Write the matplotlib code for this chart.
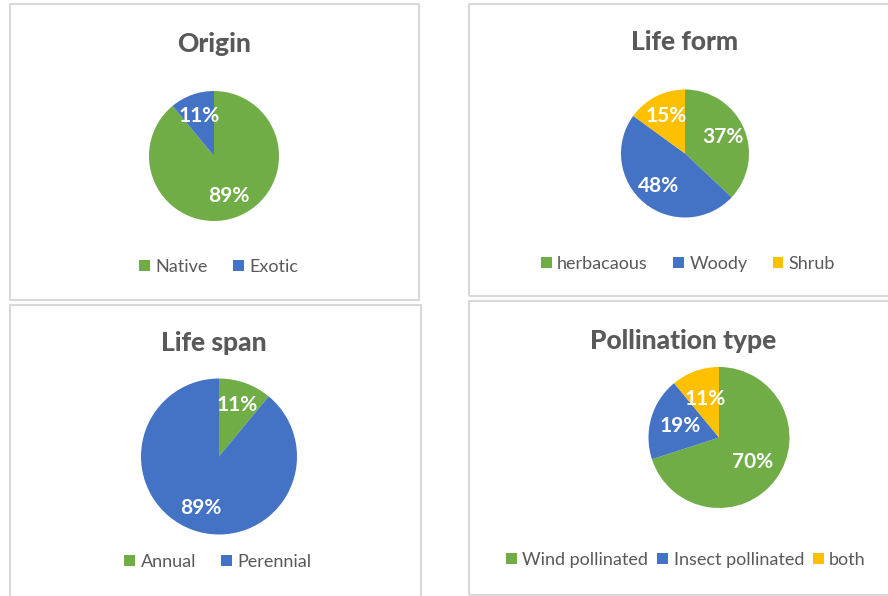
import matplotlib
matplotlib.use("Agg")
import matplotlib.pyplot as plt
from matplotlib.patches import Rectangle, Patch

plt.rcParams['font.family'] = ['Lato', 'DejaVu Sans']

GREEN, BLUE, YELLOW = '#70AD47', '#4472C4', '#FFC000'
TXT = '#595959'

# ---- data ----
origin_labels = ['Native', 'Exotic']
origin_values = [89, 11]

lifeform_labels = ['herbacaous', 'Woody', 'Shrub']
lifeform_values = [37, 48, 15]

lifespan_labels = ['Annual', 'Perennial']
lifespan_values = [11, 89]

poll_labels = ['Wind pollinated', 'Insect pollinated', 'both']
poll_values = [70, 19, 11]

W, H = 888, 596
fig = plt.figure(figsize=(W / 100, H / 100), dpi=100)

def fx(px):
    return px / W

def fy(py):
    return 1 - py / H

# panel borders (pixel coords: x0, y0, x1, y1)
panels = [(10, 4, 419, 300), (469, 4, 892, 296), (10, 305, 421, 600), (469, 301, 892, 595)]
for x0, y0, x1, y1 in panels:
    fig.add_artist(Rectangle((fx(x0), fy(y1)), fx(x1 - x0), (y1 - y0) / H,
                             transform=fig.transFigure, fill=False,
                             edgecolor='#D9D9D9', linewidth=1.5))

charts = [
    dict(title='Origin', labels=origin_labels, values=origin_values, colors=[GREEN, BLUE],
         c=(214, 156), r=65, pd=0.66, tpos=(214, 44), lpos=(219, 267), cs=1.4),
    dict(title='Life form', labels=lifeform_labels, values=lifeform_values, colors=[GREEN, BLUE, YELLOW],
         c=(685, 153.5), r=64, pd=0.65, tpos=(685, 42), lpos=(688, 264), cs=1.4),
    dict(title='Life span', labels=lifespan_labels, values=lifespan_values, colors=[GREEN, BLUE],
         c=(219, 456.5), r=78, pd=0.7, tpos=(214, 343), lpos=(218, 562), cs=1.4),
    dict(title='Pollination type', labels=poll_labels, values=poll_values, colors=[GREEN, BLUE, YELLOW],
         c=(719, 437.5), r=70.5, pd=0.58, tpos=(683, 341), lpos=(686, 560), cs=0.5),
]

for ch in charts:
    cx, cy = ch['c']
    r = ch['r']
    ax = fig.add_axes([fx(cx - r), fy(cy + r), 2 * r / W, 2 * r / H])
    ax.pie(ch['values'], colors=ch['colors'], startangle=90, counterclock=False,
           radius=1, autopct=lambda p: f'{p:.0f}%', pctdistance=ch['pd'],
           wedgeprops=dict(linewidth=0),
           textprops=dict(color='white', fontsize=15, fontweight='bold'))
    ax.set_xlim(-1, 1)
    ax.set_ylim(-1, 1)
    ax.set_aspect('auto')
    ax.axis('off')

    fig.text(fx(ch['tpos'][0]), fy(ch['tpos'][1]), ch['title'], ha='center', va='center',
             fontsize=19, fontweight='black', color=TXT)

    handles = [Patch(facecolor=c, edgecolor='none') for c in ch['colors']]
    fig.legend(handles, ch['labels'], loc='center',
               bbox_to_anchor=(fx(ch['lpos'][0]), fy(ch['lpos'][1])),
               ncol=len(ch['labels']), frameon=False, fontsize=13,
               labelcolor=TXT, handlelength=0.6, handleheight=0.6,
               handletextpad=0.3, columnspacing=ch['cs'], borderpad=0)

fig.savefig('out.png', dpi=100)
